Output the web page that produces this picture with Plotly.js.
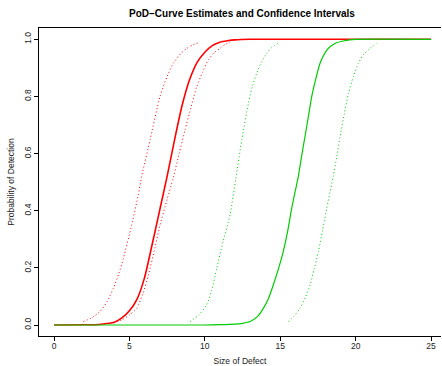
<!DOCTYPE html>
<html>
<head>
<meta charset="utf-8">
<script src="https://cdn.plot.ly/plotly-3.0.1.min.js"></script>
<style>
html, body { margin: 0; padding: 0; background: #fff; }
#chart { width: 442px; height: 366px; }
</style>
</head>
<body>
<div id="chart"></div>
<script>
// ---- data ----
const redX = [0, 2, 3, 3.5, 4, 4.5, 5, 5.5, 6, 6.5, 7, 7.5, 8, 8.5, 9, 9.5, 10, 10.5, 11, 11.5, 12, 13, 25];
const redY = [0, 0.001, 0.002, 0.005, 0.01, 0.025, 0.05, 0.09, 0.165, 0.28, 0.40, 0.52, 0.65, 0.77, 0.86, 0.92, 0.955, 0.978, 0.99, 0.995, 0.998, 1, 1];

const redLoX = [1.94, 2.5, 3.05, 3.5, 3.93, 4.3, 4.6, 5.15, 5.59, 5.81, 6.37, 7.03, 7.5, 7.91, 8.4, 8.8, 9.2, 9.57];
const redLoY = [0.012, 0.025, 0.047, 0.08, 0.128, 0.18, 0.233, 0.35, 0.455, 0.52, 0.648, 0.80, 0.87, 0.916, 0.95, 0.968, 0.98, 0.988];

const redHiX = [3.93, 4.5, 5, 5.48, 5.9, 6.26, 6.65, 7.03, 7.5, 7.91, 8.3, 8.69, 9.1, 9.46, 9.85, 10.23, 10.6, 11.0, 11.35, 11.67];
const redHiY = [0.007, 0.018, 0.035, 0.058, 0.11, 0.175, 0.26, 0.35, 0.44, 0.515, 0.60, 0.683, 0.765, 0.834, 0.885, 0.928, 0.952, 0.968, 0.982, 0.99];

const greenX = [0, 10, 11, 12, 12.5, 13, 13.5, 13.88, 14.2, 14.54, 14.9, 15.2, 15.5, 15.76, 16.0, 16.2, 16.4, 16.64, 16.9, 17.09, 17.35, 17.64, 18.0, 18.3, 18.7, 19.18, 19.6, 20, 25];
const greenY = [0, 0, 0.001, 0.003, 0.006, 0.012, 0.03, 0.058, 0.09, 0.14, 0.2, 0.257, 0.33, 0.408, 0.47, 0.52, 0.585, 0.659, 0.74, 0.80, 0.86, 0.916, 0.955, 0.974, 0.987, 0.994, 0.998, 1, 1];

const greenLoX = [9.02, 9.6, 10.12, 10.45, 10.79, 11.2, 11.67, 12.05, 12.45, 12.89, 13.15, 13.44, 13.75, 14.1, 14.45, 14.83];
const greenLoY = [0.012, 0.035, 0.07, 0.12, 0.198, 0.29, 0.385, 0.51, 0.648, 0.776, 0.835, 0.881, 0.92, 0.951, 0.972, 0.986];

const greenHiX = [15.54, 15.9, 16.31, 16.65, 16.98, 17.25, 17.53, 17.8, 18.08, 18.3, 18.52, 18.75, 18.97, 19.25, 19.52, 19.85, 20.18, 20.55, 20.95, 21.4];
const greenHiY = [0.012, 0.03, 0.058, 0.095, 0.14, 0.195, 0.257, 0.33, 0.408, 0.465, 0.522, 0.59, 0.659, 0.74, 0.81, 0.87, 0.916, 0.948, 0.968, 0.986];

const xTicks = [0, 5, 10, 15, 20, 25];
const yTicks = [0, 0.2, 0.4, 0.6, 0.8, 1.0];
const yTickText = ["0.0", "0.2", "0.4", "0.6", "0.8", "1.0"];

const titleText = "PoD\u2212Curve Estimates and Confidence Intervals";
const xTitle = "Size of Defect";
const yTitle = "Probability of Detection";

// ---- styling ----
const RED = "#FF0000";
const GREEN = "#00CD00";
const FONT = "Liberation Sans, Arial, Helvetica, sans-serif";

function curve(x, y, color, width, dash) {
  return {
    x: x, y: y, type: "scatter", mode: "lines",
    line: { color: color, width: width, dash: dash, shape: "spline", smoothing: 0.6 },
    hoverinfo: "skip", showlegend: false
  };
}

const traces = [
  curve(redX, redY, RED, 1.6, "solid"),
  curve(redLoX, redLoY, RED, 1, "1px,2.5px"),
  curve(redHiX, redHiY, RED, 1, "1px,2.5px"),
  curve(greenX, greenY, GREEN, 1.2, "solid"),
  curve(greenLoX, greenLoY, GREEN, 1, "1px,2.5px"),
  curve(greenHiX, greenHiY, GREEN, 1, "1px,2.5px")
];

const layout = {
  width: 442, height: 366,
  margin: { l: 39, r: 1, t: 28, b: 30, pad: 0 },
  paper_bgcolor: "#fff", plot_bgcolor: "#fff",
  font: { family: FONT, size: 8.5, color: "#000" },
  title: {
    text: titleText,
    font: { family: FONT, size: 10, weight: "bold", color: "#000" },
    x: 0.5475, xanchor: "center", xref: "container",
    y: 0.964, yanchor: "middle", yref: "container"
  },
  xaxis: {
    range: [-0.995, 25.66],
    tickvals: xTicks, ticktext: xTicks.map(String),
    ticks: "outside", ticklen: 4, tickwidth: 1, tickcolor: "#000",
    ticklabelstandoff: -2,
    showline: true, linecolor: "#000", linewidth: 1, mirror: true,
    showgrid: false, zeroline: false,
    tickfont: { family: FONT, size: 8.5, color: "#222" },
    title: { text: xTitle, font: { family: FONT, size: 8.5, color: "#222" }, standoff: 9 },
    automargin: false
  },
  yaxis: {
    range: [-0.0385, 1.0396],
    tickvals: yTicks, ticktext: yTickText, tickangle: -90,
    ticks: "outside", ticklen: 4, tickwidth: 1, tickcolor: "#000",
    showline: true, linecolor: "#000", linewidth: 1, mirror: false,
    showgrid: false, zeroline: false,
    tickfont: { family: FONT, size: 8.5, color: "#222" },
    title: { text: yTitle, font: { family: FONT, size: 8.5, color: "#222" }, standoff: 6 },
    automargin: false
  }
};

Plotly.newPlot("chart", traces, layout, { staticPlot: true, displayModeBar: false });
</script>
</body>
</html>
